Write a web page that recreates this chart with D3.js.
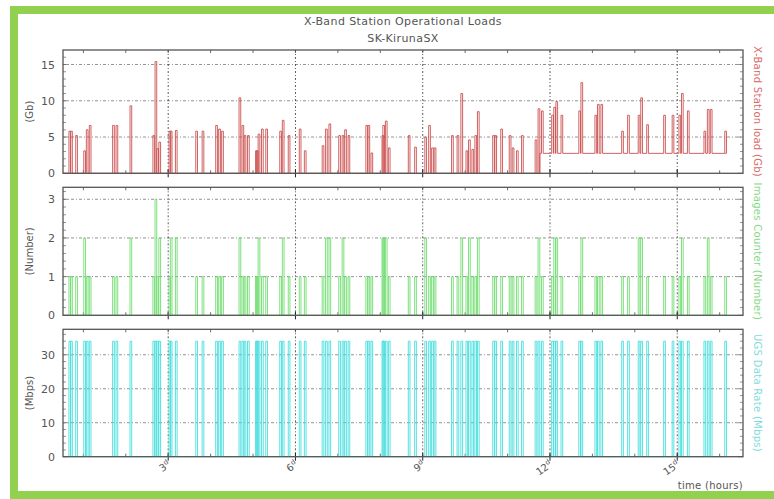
<!DOCTYPE html>
<html>
<head>
<meta charset="utf-8">
<script src="https://cdn.jsdelivr.net/npm/d3@7"></script>
<style>
  body { margin: 0; background: #fff; }
  text { font-family: "DejaVu Sans", sans-serif; fill: #555; }
</style>
</head>
<body>
<svg id="chart" width="774" height="499"></svg>
<script>
// event times (days)
var eventDays = [0.66, 0.70, 0.82, 1.01, 1.07, 1.14, 1.69, 1.77, 2.10, 2.64, 2.69, 2.73, 2.78,
  3.02, 3.05, 3.17, 3.65, 3.80, 4.12, 4.19, 4.26, 4.67, 4.74, 4.79, 4.87, 5.06, 5.08, 5.12,
  5.20, 5.30, 5.63, 5.69, 5.83, 6.09, 6.21, 6.63, 6.71, 6.79, 7.02, 7.10, 7.16, 7.24, 7.66,
  7.71, 7.78, 8.04, 8.06, 8.12, 8.19, 8.66, 8.81, 9.05, 9.14, 9.21, 9.27, 9.68, 9.81, 9.90,
  10.02, 10.08, 10.16, 10.23, 10.29, 10.65, 10.70, 10.84, 11.04, 11.11, 11.21, 11.33, 11.65,
  11.72, 11.80, 12.04, 12.09, 12.14, 12.26, 12.68, 12.73, 13.06, 13.12, 13.20, 13.69, 13.83,
  14.08, 14.14, 14.28, 14.68, 14.88, 15.04, 15.10, 15.24, 15.63, 15.71, 15.78, 16.12];

// X-Band station load (Gb) per event
var loadGb = [5.8, 5.8, 5.2, 3.1, 6.0, 6.6, 6.6, 6.6, 9.3, 5.2, 15.4, 3.4, 4.3,
  5.8, 5.8, 5.9, 5.8, 5.8, 6.6, 6.1, 5.8, 10.4, 6.6, 5.2, 5.2, 3.1, 3.1, 5.4,
  6.1, 6.1, 5.8, 7.3, 5.2, 6.1, 3.1, 3.8, 6.1, 6.8, 5.2, 5.2, 6.0, 5.2, 6.6,
  6.6, 2.8, 5.2, 6.6, 7.2, 3.5, 5.2, 3.6, 5.0, 6.6, 3.5, 3.5, 5.2, 5.2, 11.0,
  3.1, 4.6, 3.3, 5.2, 8.5, 5.2, 5.2, 6.1, 5.2, 3.5, 3.1, 5.2, 4.6,
  8.9, 8.6, 8.0, 9.1, 9.9, 8.0, 8.6, 12.5, 8.0, 9.5, 9.5, 5.8, 8.0,
  8.0, 10.4, 6.7, 8.0, 8.0, 8.0, 11.0, 8.6, 5.8, 8.8, 8.8, 5.8];

// images counter per event
var imageCount = [1, 1, 1, 2, 1, 1, 1, 1, 2, 1, 3, 1, 2,
  1, 2, 2, 1, 1, 1, 1, 1, 2, 1, 1, 1, 1, 1, 2,
  1, 1, 1, 2, 1, 1, 1, 1, 2, 2, 1, 2, 1, 1, 1,
  1, 1, 2, 2, 2, 1, 1, 1, 2, 1, 1, 1, 1, 1, 2,
  1, 2, 1, 1, 2, 1, 1, 1, 1, 1, 1, 1, 1,
  2, 1, 1, 2, 2, 1, 1, 2, 1, 1, 1, 1, 1,
  2, 2, 1, 1, 1, 1, 2, 1, 1, 2, 1, 1];

// UGS data rate (Mbps) per event
var dataRate = [34, 34, 34, 34, 34, 34, 34, 34, 34, 34, 34, 34, 34,
  34, 34, 34, 34, 34, 34, 34, 34, 34, 34, 34, 34, 34, 34, 34,
  34, 34, 34, 34, 34, 34, 34, 34, 34, 34, 34, 34, 34, 34, 34,
  34, 34, 34, 34, 34, 34, 34, 34, 34, 34, 34, 34, 34, 34, 34,
  34, 34, 34, 34, 34, 34, 34, 34, 34, 34, 34, 34, 34,
  34, 34, 34, 34, 34, 34, 34, 34, 34, 34, 34, 34, 34,
  34, 34, 34, 34, 34, 34, 34, 34, 34, 34, 34, 34];

// station load background level: [from day, level]
var loadBase = [[0.52, 0], [11.76, 2.75]];
var seriesEnd = 16.13;

var dayTicks = [3, 6, 9, 12, 15];

var svg = d3.select("#chart");
var green = "#92d050";

// green frame
svg.append("rect").attr("x", 10).attr("y", 6).attr("width", 764).attr("height", 8).attr("fill", green);
svg.append("rect").attr("x", 10).attr("y", 6).attr("width", 8).attr("height", 493).attr("fill", green);
svg.append("rect").attr("x", 10).attr("y", 491).attr("width", 764).attr("height", 8).attr("fill", green);

svg.append("text").attr("x", 403).attr("y", 25).attr("text-anchor", "middle")
  .style("font-size", "11px").style("letter-spacing", "0.4px").text("X-Band Station Operational Loads");
svg.append("text").attr("x", 403).attr("y", 42).attr("text-anchor", "middle")
  .style("font-size", "11px").style("letter-spacing", "0.4px").text("SK-KirunaSX");

var x = d3.scaleLinear().domain([0.52, 16.55]).range([63, 743]);
var pulse = 0.04;

var panels = [
  { top: 50, bottom: 173.3, max: 17, ticks: [0, 5, 10, 15], minor: 1, values: loadGb,
    color: "#cc4f4f", unit: "(Gb)", right: "X-Band Station load (Gb)", rightColor: "#d96a6a" },
  { top: 187.3, bottom: 315.3, max: 3.31, ticks: [0, 1, 2, 3], minor: 0.2, values: imageCount,
    color: "#6fdc6f", unit: "(Number)", right: "Images Counter (Number)", rightColor: "#86d986" },
  { top: 329.3, bottom: 456.7, max: 37.5, ticks: [0, 10, 20, 30], minor: 2, values: dataRate,
    color: "#45dede", unit: "(Mbps)", right: "UGS Data Rate (Mbps)", rightColor: "#7edcdc" }
];

function baseAt(p, t) {
  if (p.values !== loadGb) return 0;
  var b = 0;
  loadBase.forEach(function(s) { if (t >= s[0]) b = s[1]; });
  return b;
}

panels.forEach(function(p, pi) {
  var y = d3.scaleLinear().domain([0, p.max]).range([p.bottom, p.top]);
  var g = svg.append("g");

  // grid
  p.ticks.slice(1).forEach(function(v) {
    g.append("line").attr("x1", 63).attr("x2", 743).attr("y1", y(v)).attr("y2", y(v))
      .attr("stroke", "#777").attr("stroke-width", 0.8).attr("stroke-dasharray", "3,2,1,2");
  });
  dayTicks.forEach(function(d) {
    g.append("line").attr("x1", x(d)).attr("x2", x(d)).attr("y1", p.top).attr("y2", p.bottom)
      .attr("stroke", "#333").attr("stroke-width", 0.8).attr("stroke-dasharray", "2,2,1,2");
  });

  // minor ticks on both sides
  var minorTicks = d3.range(0, p.max, p.minor);
  minorTicks.forEach(function(v) {
    var len = p.ticks.some(function(t) { return Math.abs(t - v) < 1e-6; }) ? 5 : 3;
    g.append("line").attr("x1", 63).attr("x2", 63 + len).attr("y1", y(v)).attr("y2", y(v))
      .attr("stroke", "#666").attr("stroke-width", 0.7);
    g.append("line").attr("x1", 743 - len).attr("x2", 743).attr("y1", y(v)).attr("y2", y(v))
      .attr("stroke", "#666").attr("stroke-width", 0.7);
  });
  d3.range(1, 17).forEach(function(d) {
    g.append("line").attr("x1", x(d)).attr("x2", x(d)).attr("y1", p.top).attr("y2", p.top + 3)
      .attr("stroke", "#444").attr("stroke-width", 0.8);
    g.append("line").attr("x1", x(d)).attr("x2", x(d)).attr("y1", p.bottom - 3).attr("y2", p.bottom)
      .attr("stroke", "#444").attr("stroke-width", 0.8);
  });
  dayTicks.forEach(function(d) {
    g.append("line").attr("x1", x(d)).attr("x2", x(d)).attr("y1", p.bottom - 4).attr("y2", p.bottom + 4)
      .attr("stroke", "#222").attr("stroke-width", 1);
  });

  // series as narrow pulses
  var pts = [[loadBase[0][0], baseAt(p, loadBase[0][0])]];
  eventDays.forEach(function(t, i) {
    var b = baseAt(p, t);
    var prev = pts[pts.length - 1][1];
    if (prev !== b) { pts.push([loadBase[1][0], prev]); pts.push([loadBase[1][0], b]); }
    pts.push([t, b], [t, p.values[i]], [t + pulse, p.values[i]], [t + pulse, b]);
  });
  pts.push([seriesEnd, pts[pts.length - 1][1]]);
  var line = d3.line().x(function(d) { return x(d[0]); }).y(function(d) { return y(d[1]); });
  g.append("path").attr("d", line(pts)).attr("fill", "none")
    .attr("stroke", p.color).attr("stroke-width", 0.9);

  // frame
  g.append("rect").attr("x", 63).attr("y", p.top).attr("width", 680).attr("height", p.bottom - p.top)
    .attr("fill", "none").attr("stroke", "#555").attr("stroke-width", 1.3);

  // y labels
  p.ticks.forEach(function(v) {
    g.append("text").attr("x", 55).attr("y", y(v) + 4).attr("text-anchor", "end")
      .style("font-size", "11px").text(v);
  });
  var mid = (p.top + p.bottom) / 2;
  g.append("text").attr("transform", "translate(33," + mid + ") rotate(-90)")
    .attr("text-anchor", "middle").style("font-size", "10px").text(p.unit);
  g.append("text").attr("transform", "translate(754," + mid + ") rotate(90)")
    .attr("text-anchor", "middle").style("font-size", "10px").style("fill", p.rightColor)
    .style("letter-spacing", "0.3px").text(p.right);
});

// x labels
dayTicks.forEach(function(d) {
  var t = svg.append("text").attr("transform", "translate(" + (x(d) + 3) + ",466) rotate(-35)")
    .attr("text-anchor", "end").style("font-size", "10px");
  t.append("tspan").text(d);
  t.append("tspan").attr("dy", -4).style("font-size", "7px").text("d");
});

svg.append("text").attr("x", 743).attr("y", 489).attr("text-anchor", "end")
  .style("font-size", "10px").style("letter-spacing", "0.3px").text("time (hours)");
</script>
</body>
</html>
